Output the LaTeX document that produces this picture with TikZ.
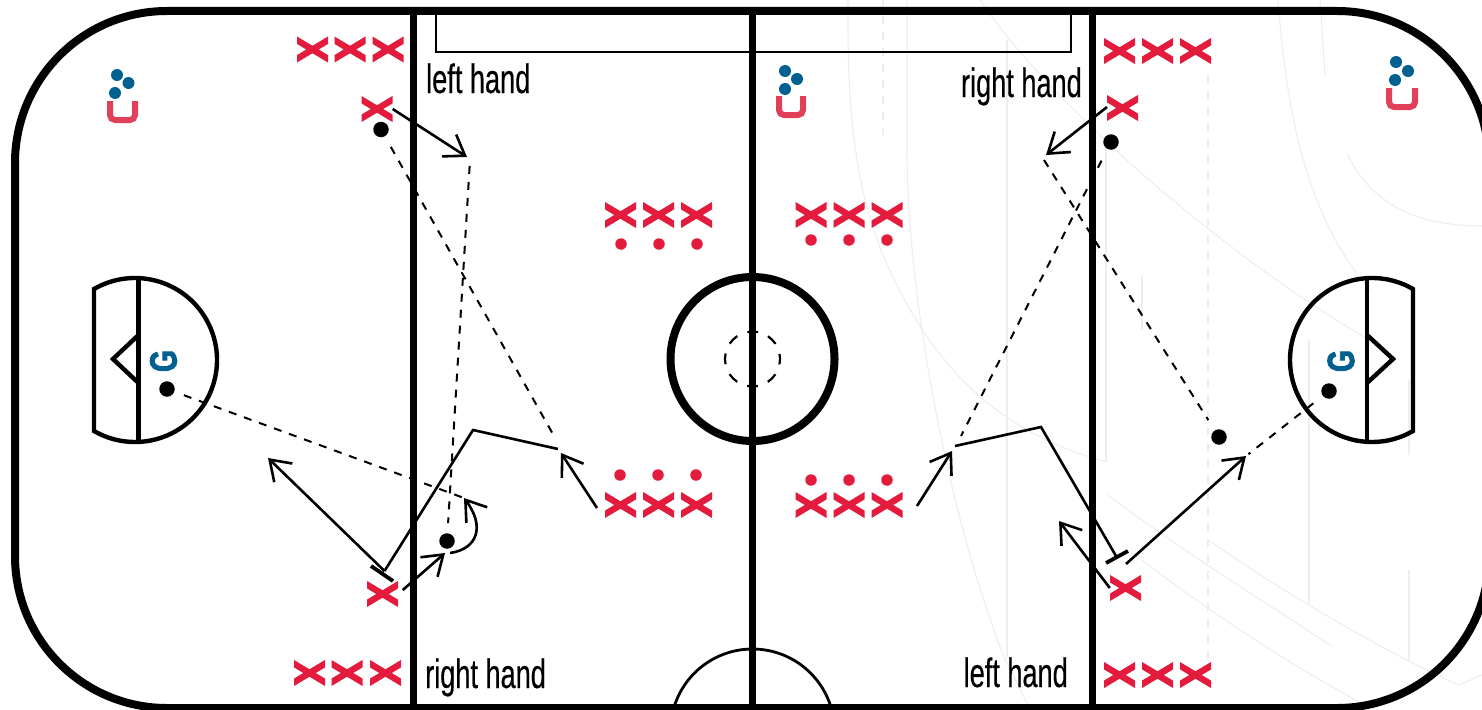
\documentclass[tikz,border=0pt]{standalone}
\usepackage{fontspec}
\setmainfont{Liberation Sans}
\newfontfamily\handfont[FakeStretch=0.662,FakeBold=0.35]{Liberation Sans}
\newfontfamily\gfont[FakeStretch=0.74,FakeBold=2.2]{Liberation Sans Bold}
\usetikzlibrary{arrows.meta}
\definecolor{xred}{HTML}{E31B3C}
\definecolor{ured}{HTML}{E0405A}
\definecolor{cblue}{HTML}{00608F}
\definecolor{faint}{HTML}{EEEEEE}
\tikzset{
  rinkline/.style={draw=black,line width=7.5pt},
  thinline/.style={draw=black,line width=4.4pt},
  xmark/.style={inner sep=0pt,minimum width=31pt,minimum height=26.5pt,
    path picture={
      \draw[xred,line width=6.4pt,shift={(path picture bounding box.center)}]
        (-20,-12) -- (20,12) (-20,12) -- (20,-12);
    }},
  reddot/.style={circle,fill=xred,inner sep=0pt,minimum size=11.5pt},
  bluedot/.style={circle,fill=cblue,inner sep=0pt,minimum size=12pt},
  puck/.style={circle,fill=black,inner sep=0pt,minimum size=15.5pt},
  coachcup/.style={draw=ured,line width=6pt,rounded corners=5pt},
  solidmove/.style={draw=black,line width=2.6pt,line join=miter,
    -{Straight Barb[length=19pt,width=26pt]}},
  plainmove/.style={draw=black,line width=2.6pt,line join=miter},
  passline/.style={draw=black,line width=2pt,dash pattern=on 8pt off 8pt},
  faintline/.style={draw=faint,line width=1.1pt},
  faintdash/.style={draw=faint,line width=1.1pt,dash pattern=on 8pt off 8pt},
  handlabel/.style={inner sep=0pt,font=\handfont\fontsize{41}{41}\selectfont},
  goalletter/.style={inner sep=0pt,rotate=90,text=cblue,font=\gfont\fontsize{38}{38}\selectfont},
}
\begin{document}
\begin{tikzpicture}[x=1pt,y=-1pt]
\useasboundingbox (0,0) rectangle (1482,709);
\clip (0,0) rectangle (1482,709);
\fill[white] (0,0) rectangle (1482,709);

% faint background traces
\draw[faintdash] (883,0) -- (883,135);
\draw[faintdash] (1208,75) -- (1208,670);
\draw[faintline] (1007,40) -- (1007,657);
\draw[faintline] (1106,145) -- (1106,462);
\draw[faintline] (1309,340) -- (1309,605);
\draw[faintline] (1409,570) -- (1409,660);
\draw[faintline] (1409,380) -- (1409,455);
\draw[faintline] (1142,275) -- (1142,330);
\draw[faintline] (848,0) .. controls (848,60) and (846,170) .. (885,260) .. controls (925,350) and (985,430) .. (1107,462);
\draw[faintline] (907,0) -- (907,150) .. controls (907,300) and (950,520) .. (1004,657) -- (1030,709);
\draw[faintline] (980,0) .. controls (1040,90) and (1200,240) .. (1369,340);
\draw[faintline] (1108,495) .. controls (1180,550) and (1270,605) .. (1333,647);
\draw[faintline] (1208,540) .. controls (1280,590) and (1380,650) .. (1459,685) -- (1482,675);
\draw[faintline] (1142,560) .. controls (1220,620) and (1300,670) .. (1361,703);
\draw[faintline] (1278,0) .. controls (1285,90) and (1300,210) .. (1370,290);
\draw[faintline] (1320,0) -- (1325,75);
\draw[faintline] (1347,154) .. controls (1370,200) and (1410,226) .. (1482,226);

% rink
\draw[rinkline,line width=8pt,rounded corners=152pt] (15,11) rectangle (1489,708);
\draw[rinkline] (413.5,11) -- (413.5,708);
\draw[rinkline] (752.5,11) -- (752.5,708);
\draw[rinkline] (1092.5,11) -- (1092.5,708);
\draw[draw=black,line width=2.8pt] (436,11) -- (436,52) -- (1071,52) -- (1071,11);
\draw[draw=black,line width=8pt] (752.5,359) circle (82);
\draw[draw=black,line width=2.2pt,dash pattern=on 10.8pt off 10.8pt,dash phase=5.4pt] (752.5,359) circle (27.5);
\draw[draw=black,line width=2.8pt] (752.5,731) circle (82);

% creases
\draw[thinline] (94,431) -- (94,289) arc[start angle=-120,delta angle=240,radius=82] -- cycle;
\draw[thinline] (138.5,278) -- (138.5,442);
\draw[thinline,line join=miter] (138.5,335) -- (113,359) -- (138.5,383);
\draw[thinline] (1413,431) -- (1413,289) arc[start angle=-60,delta angle=-240,radius=82] -- cycle;
\draw[thinline] (1367,278) -- (1367,442);
\draw[thinline,line join=miter] (1367,335) -- (1393,359) -- (1367,383);

% letters and coaches
\node[goalletter] (gl) at (163.5,361) {G};
\node[goalletter] (gr) at (1341,361) {G};
\draw[coachcup] (110,101) -- (110,120) -- (135,120) -- (135,101);
\draw[coachcup] (779,96) -- (779,115) -- (803,115) -- (803,96);
\draw[coachcup] (1389,88) -- (1389,107) -- (1415,107) -- (1415,88);
\foreach \n/\x/\y in {a/117/75,b/128.5/83,c/115/93,d/785/71,e/797/79,f/785/89,g/1396/62,h/1408/71,i/1395/80}
  \node[bluedot] (cd\n) at (\x,\y) {};

% players
\foreach \n/\x/\y in {
  a/312.5/49.5,b/350/49.5,c/388/49.5,d/377/109,
  e/309.5/673,f/347/673,g/385.5/673,h/382.5/594,
  i/620.5/215,j/658.5/215,k/696.5/215,
  l/620.5/505,m/658.5/505,n/696.5/505,
  o/811/215,p/849/215,q/887/215,
  r/811/505,s/849/505,t/887/505,
  u/1119.5/51,v/1157.5/51,w/1195.5/51,y/1122.5/108,
  z/1125.5/588,A/1119.5/675,B/1157.5/675,C/1195.5/675}
  \node[xmark] (x\n) at (\x,\y) {};
\foreach \n/\x/\y in {
  a/621/244,b/659/244,c/697/244,
  d/620/475,e/658/475,f/696/475,
  g/811/240,h/849/240,i/887/240,
  j/811/480,k/849/480,l/887/480}
  \node[reddot] (rd\n) at (\x,\y) {};

% pucks
\node[puck] (pa) at (381,129.5) {};
\node[puck] (pb) at (447,541) {};
\node[puck] (pc) at (167,389) {};
\node[puck] (pd) at (1111,142) {};
\node[puck] (pe) at (1219,437) {};
\node[puck] (pf) at (1329,391) {};

% labels
\node[handlabel,anchor=base west] (l1) at (426,93) {left hand};
\node[handlabel,anchor=base west] (l2) at (425,688) {right hand};
\node[handlabel,anchor=base east] (l3) at (1082,97) {right hand};
\node[handlabel,anchor=base east] (l4) at (1068,687) {left hand};

% free ends of connectors
\coordinate (ta) at (467,157);
\coordinate (tb) at (464,498);
\coordinate (tc) at (445,553);
\coordinate (td) at (268,458);
\coordinate (te) at (561,453);
\coordinate (tf) at (1046,155);
\coordinate (tg) at (1059,521);
\coordinate (th) at (1246,456);
\coordinate (ti) at (952,451);
\coordinate (ka) at (473,430);
\coordinate (kb) at (1041,427);
\coordinate (sa) at (558,449);
\coordinate (sb) at (955,446);
\coordinate (ea) at (384.5,571);
\coordinate (eb) at (1116,556);
\coordinate (ba) at (371,566);
\coordinate (bb) at (393,581);
\coordinate (bc) at (1106,563);
\coordinate (bd) at (1128,551);
\coordinate (da) at (554,436);
\coordinate (db) at (470,160);
\coordinate (dc) at (1044,160);
\coordinate (dd) at (961,436);

% left half moves
\draw[solidmove] (xd.east) -- (ta);
\draw[passline,shorten <=12pt] (pa) -- (da);
\draw[passline,shorten <=6pt,shorten >=10pt] (db) -- (pb);
\draw[passline,shorten <=10pt,shorten >=2pt] (pc) -- (tb);
\draw[solidmove,shorten <=6pt] (xh.east) -- (tc);
\draw[solidmove] (450,553) .. controls (478,549) and (485,526) .. (tb);
\draw[plainmove] (sa) -- (ka) -- (ea);
\draw[plainmove,line width=3.8pt] (ba) -- (bb);
\draw[solidmove] (ea) -- (td);
\draw[solidmove] (597,508) -- (te);

% right half moves
\draw[solidmove] (1107,107) -- (tf);
\draw[passline,shorten <=13pt] (pd) -- (dd);
\draw[passline,shorten >=12pt] (dc) -- (pe);
\draw[passline,shorten <=12pt,shorten >=3pt] (pf) -- (th);
\draw[solidmove] (xz.west) -- (tg);
\draw[plainmove] (sb) -- (kb) -- (eb);
\draw[plainmove,line width=3.8pt] (bc) -- (bd);
\draw[solidmove] (1126,564) -- (th);
\draw[solidmove] (917,506) -- (ti);
\end{tikzpicture}
\end{document}
